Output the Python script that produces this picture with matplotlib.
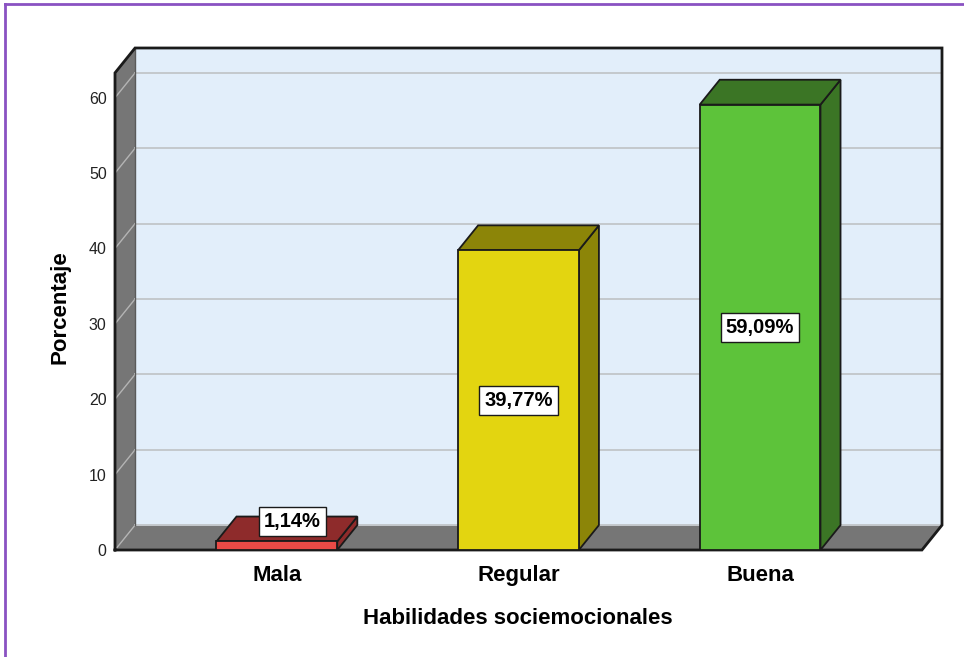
import matplotlib
matplotlib.use("Agg")
import matplotlib.pyplot as plt
from matplotlib.patches import Polygon, Rectangle
from matplotlib.lines import Line2D

plt.rcParams["font.family"] = ["Liberation Sans", "DejaVu Sans"]

categories = ["Mala", "Regular", "Buena"]
values = [1.14, 39.77, 59.09]
labels = ["1,14%", "39,77%", "59,09%"]
yticks = [0, 10, 20, 30, 40, 50, 60]

front_colors = ["#EA4A46", "#E3D510", "#5DC33A"]
dark_colors = ["#8E2B2B", "#8C8508", "#3B7525"]

# 3D box geometry in data units
xmin, xmax = -0.67, 2.67
ymax = 63.3
ddx, ddy = 0.083, 3.3
bw = 0.5

fig = plt.figure(figsize=(9.64, 6.57), dpi=100)
ax = fig.add_axes([115/964, (657-550)/657, (942-115)/964, (550-48)/657])
ax.set_xlim(xmin, xmax + ddx)
ax.set_ylim(0, ymax + ddy)
for s in ax.spines.values():
    s.set_visible(False)

wall = "#767676"
# back wall
ax.add_patch(Rectangle((xmin + ddx, ddy), xmax - xmin, ymax, facecolor="#E2EEFA",
                       edgecolor="none", zorder=1))
# left wall
ax.add_patch(Polygon([(xmin, 0), (xmin + ddx, ddy), (xmin + ddx, ymax + ddy), (xmin, ymax)],
                     closed=True, facecolor=wall, edgecolor="none", zorder=1))
# floor
ax.add_patch(Polygon([(xmin, 0), (xmax, 0), (xmax + ddx, ddy), (xmin + ddx, ddy)],
                     closed=True, facecolor=wall, edgecolor="none", zorder=1))

# gridlines
for t in yticks:
    if t == 0:
        continue
    ax.add_line(Line2D([xmin + ddx, xmax + ddx], [t + ddy, t + ddy], color="#C4C8CC", lw=1.4, zorder=2))
    ax.add_line(Line2D([xmin, xmin + ddx], [t, t + ddy], color="#B4B4B4", lw=1.0, zorder=2))
ax.add_line(Line2D([xmin + ddx, xmax + ddx], [ddy, ddy], color="#C4C8CC", lw=1.4, zorder=2))
ax.add_line(Line2D([xmin, xmin + ddx], [0, ddy], color="#B4B4B4", lw=1.0, zorder=2))
ax.add_line(Line2D([xmin + ddx, xmin + ddx], [ddy, ymax + ddy], color="#5A5A5A", lw=1.0, zorder=2))

# outline of the box
ax.add_line(Line2D([xmin, xmin, xmin + ddx, xmax + ddx, xmax + ddx, xmax, xmin],
                   [0, ymax, ymax + ddy, ymax + ddy, ddy, 0, 0],
                   color="#1A1A1A", lw=2.0, zorder=3, clip_on=False,
                   solid_joinstyle="miter"))

# bars
for i, (v, fc, dc) in enumerate(zip(values, front_colors, dark_colors)):
    x0, x1 = i - bw/2, i + bw/2
    ax.add_patch(Polygon([(x1, 0), (x1 + ddx, ddy), (x1 + ddx, v + ddy), (x1, v)], closed=True,
                         facecolor=dc, edgecolor="#1A1A1A", lw=1.3, zorder=4))
    ax.add_patch(Polygon([(x0, v), (x1, v), (x1 + ddx, v + ddy), (x0 + ddx, v + ddy)], closed=True,
                         facecolor=dc, edgecolor="#1A1A1A", lw=1.3, zorder=4))
    ax.add_patch(Rectangle((x0, 0), bw, v, facecolor=fc, edgecolor="#1A1A1A", lw=1.3, zorder=5))

box = dict(boxstyle="square,pad=0.25", facecolor="white", edgecolor="#1A1A1A", lw=1.0)
for i, (v, lab) in enumerate(zip(values, labels)):
    if v < 8:
        ax.text(i + 0.065, v + 2.6, lab, ha="center", va="center", fontsize=14.5,
                fontweight="bold", bbox=box, zorder=6)
    else:
        ax.text(i, v / 2, lab, ha="center", va="center", fontsize=14.5,
                fontweight="bold", bbox=box, zorder=6)

ax.set_yticks(yticks)
ax.set_yticklabels([str(t) for t in yticks], fontsize=11.5, color="#222222")
ax.set_xticks(range(len(categories)))
ax.set_xticklabels(categories, fontsize=16, fontweight="bold")
ax.tick_params(axis="y", length=0, pad=6)
ax.tick_params(axis="x", length=0, pad=11)

fig.text(517.5/964, 1 - 618/657, "Habilidades sociemocionales", ha="center", va="center",
         fontsize=16, fontweight="bold")
fig.text(60/964, 1 - 307/657, "Porcentaje", ha="center", va="center", rotation=90,
         fontsize=16, fontweight="bold")

# purple frame
fig.add_artist(Line2D([5/964, 5/964], [0, 1 - 4/657], color="#8A52C2", lw=2.0, transform=fig.transFigure))
fig.add_artist(Line2D([5/964, 1], [1 - 4/657, 1 - 4/657], color="#8A52C2", lw=2.0, transform=fig.transFigure))

fig.savefig("out.png", dpi=100)
